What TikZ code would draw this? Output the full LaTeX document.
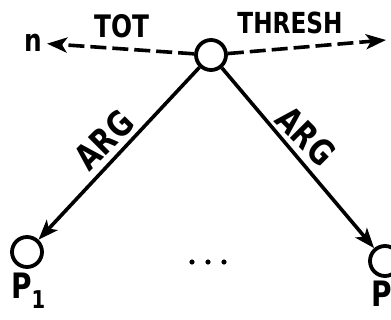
\documentclass[tikz,border=0pt]{standalone}
\usepackage{fontspec}
\setmainfont{DejaVu Sans}[FakeStretch=0.8]
\usetikzlibrary{arrows.meta}
\begin{document}
\begin{tikzpicture}[x=1pt,y=-1pt,
  vertex/.style={circle,draw,line width=3.8pt,minimum size=30pt,inner sep=0pt},
  lbl/.style={inner sep=0pt},
  link/.style={line width=3.6pt,-{Stealth[length=20pt,width=15pt,inset=5pt]}},
  dlink/.style={link,dash pattern=on 16pt off 6pt}
]
\useasboundingbox (0,0) rectangle (391,320);

% vertices
\node[vertex] (top) at (211,55) {};
\node[vertex] (p1) at (27,252) {};
\node[vertex] (pn) at (385,261) {};

% end points of the dashed links
\node[lbl,font=\bfseries\fontsize{31}{31}\selectfont,anchor=base] (n) at (33,52) {n};
\coordinate (rend) at (386,40);

% links
\draw[dlink,shorten >=5pt] (top) -- (n.east);
\draw[dlink] (top) -- (rend);
\draw[link] (top) -- (p1);
\draw[link] (top) -- (pn);

% link labels
\node[lbl,font=\bfseries\fontsize{31}{31}\selectfont] (tot) at (122,26) {TOT};
\node[lbl,font=\bfseries\fontsize{29}{29}\selectfont] (thresh) at (290,23) {THRESH};
\node[lbl,rotate=45,font=\bfseries\fontsize{35}{35}\selectfont] (argl) at (104,140) {ARG};
\node[lbl,rotate=-45,font=\bfseries\fontsize{35}{35}\selectfont] (argr) at (306,136) {ARG};

% vertex names
\node[lbl,font=\bfseries\fontsize{35}{35}\selectfont,anchor=base west] (l1) at (11,299) {P\textsubscript{1}};
\node[lbl,font=\bfseries\fontsize{35}{35}\selectfont,anchor=base west] (ln) at (371,307) {P\textsubscript{n}};

% ellipsis between the argument vertices
\foreach \x in {192,208,224}
  \fill (\x,262) circle (2.6pt);
\end{tikzpicture}
\end{document}
